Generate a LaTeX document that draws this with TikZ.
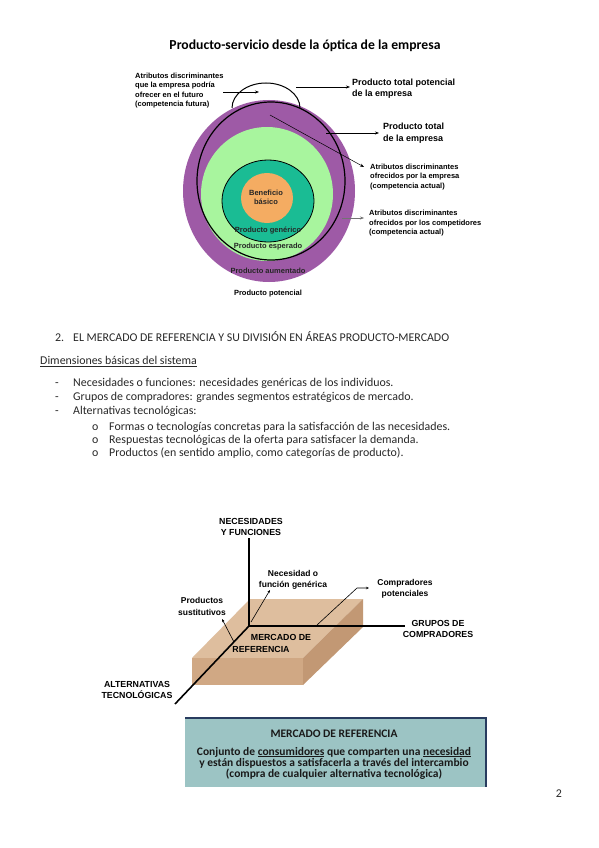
\documentclass[tikz,border=0pt]{standalone}
\usepackage{fontspec}
\setmainfont{Carlito}
\newfontfamily\arialf{Liberation Sans}
\usetikzlibrary{arrows.meta}
\definecolor{purp}{RGB}{158,90,166}
\definecolor{lgreen}{RGB}{168,245,158}
\definecolor{tealc}{RGB}{26,188,148}
\definecolor{orangec}{RGB}{244,172,98}
\definecolor{tantop}{RGB}{222,190,158}
\definecolor{tanfront}{RGB}{208,168,132}
\definecolor{tanside}{RGB}{194,152,116}
\definecolor{boxfill}{RGB}{156,196,196}
\definecolor{boxline}{RGB}{40,60,95}
\definecolor{bodytext}{RGB}{40,40,40}
\tikzset{
  sm/.style={font=\arialf\bfseries\fontsize{7.5}{9.3}\selectfont, inner sep=0pt, align=left, anchor=base west},
  md/.style={font=\arialf\bfseries\fontsize{9}{11}\selectfont, inner sep=0pt, align=left, anchor=base west},
  ax/.style={font=\arialf\bfseries\fontsize{8.8}{11}\selectfont, inner sep=0pt, align=center, anchor=base},
  inl/.style={font=\arialf\bfseries\fontsize{7.5}{9}\selectfont, inner sep=0pt, align=center, anchor=base},
  body/.style={font=\fontsize{11.9}{14}\selectfont, text=bodytext, inner sep=0pt, anchor=base west},
  arr/.style={line width=0.6pt, -{Stealth[length=4pt,width=3pt]}},
  axis/.style={line width=1.6pt},
  lead/.style={line width=0.6pt, -{Stealth[length=3pt,width=2.5pt]}},
}
\begin{document}
\begin{tikzpicture}[x=1pt,y=-1pt]
\useasboundingbox (0,0) rectangle (599,848);
\fill[white] (0,0) rectangle (599,848);

\node[font=\fontsize{13.7}{15}\selectfont\bfseries, anchor=base, inner sep=0pt] (title) at (305,49.5) {Producto-servicio desde la óptica de la empresa};

% circles
\fill[purp] (269,191) ellipse [x radius=86pt, y radius=91pt];
\fill[lgreen] (267,194) ellipse [x radius=66pt, y radius=67pt];
\filldraw[fill=tealc, draw=black, line width=0.8pt] (268,201) ellipse [x radius=46pt, y radius=41pt];
\fill[orangec] (267,198) ellipse [x radius=26pt, y radius=25pt];
\draw[line width=1.2pt] (271,181) ellipse [x radius=74pt, y radius=79pt];
\draw[line width=1pt] (232,108) arc[start angle=180, end angle=0, x radius=34pt, y radius=25pt];

\coordinate (futA) at (223,92);
\coordinate (futB) at (259,92);
\coordinate (potA) at (296,87);
\coordinate (potB) at (350,87);
\coordinate (totA) at (326,133);
\coordinate (totB) at (379,133);
\coordinate (actA) at (270,115);
\coordinate (actB) at (364,167);
\coordinate (compA) at (342,218);
\coordinate (compB) at (364,218);
\draw[arr] (futA) -- (futB);
\draw[arr] (potA) -- (potB);
\draw[arr] (totA) -- (totB);
\draw[arr, line width=0.5pt] (actA) -- (actB);
\draw[arr, draw=black!55, line width=0.5pt] (compA) -- (compB);

% multi-line nodes: base anchor = baseline of last line
\node[sm] (lfut) at (135,106.4) {Atributos discriminantes\\que la empresa podría\\ofrecer en el futuro\\(competencia futura)};
\node[md] (lpot) at (352,97) {Producto total potencial\\de la empresa};
\node[md] (ltot) at (383,141) {Producto total\\de la empresa};
\node[sm] (lact) at (370,188) {Atributos discriminantes\\ofrecidos por la empresa\\(competencia actual)};
\node[sm] (lcom) at (369,234.5) {Atributos discriminantes\\ofrecidos por los competidores\\(competencia actual)};

\node[inl, text=black!85] (lben) at (266,204.5) {Beneficio\\básico};
\node[inl, text=black!85] (lgen) at (268,232.5) {Producto genérico};
\node[inl, text=black!85] (lesp) at (268,248.5) {Producto esperado};
\node[inl, text=black!85] (laum) at (268,273.5) {Producto aumentado};
\node[inl] (lpotc) at (268,295.5) {Producto potencial};

% body text
\node[body] (n2) at (55,341) {2.};
\node[body] (head) at (73,341) {EL MERCADO DE REFERENCIA Y SU DIVISIÓN EN ÁREAS PRODUCTO-MERCADO};
\node[body] (dim) at (40,364.5) {\underline{Dimensiones básicas del sistema}};
\node[body] (d1) at (55,386.5) {-};
\node[body] (b1) at (73,386.5) {Necesidades o funciones: necesidades genéricas de los individuos.};
\node[body] (d2) at (55,400.5) {-};
\node[body] (b2) at (73,400.5) {Grupos de compradores: grandes segmentos estratégicos de mercado.};
\node[body] (d3) at (55,414.5) {-};
\node[body] (b3) at (73,414.5) {Alternativas tecnológicas:};
\node[body] (o1) at (92,430.5) {o};
\node[body] (s1) at (109,430.5) {Formas o tecnologías concretas para la satisfacción de las necesidades.};
\node[body] (o2) at (92,443.5) {o};
\node[body] (s2) at (109,443.5) {Respuestas tecnológicas de la oferta para satisfacer la demanda.};
\node[body] (o3) at (92,456.5) {o};
\node[body] (s3) at (109,456.5) {Productos (en sentido amplio, como categorías de producto).};

% slab
\fill[tantop] (250,599) -- (363,599) -- (303,658) -- (192,658) -- cycle;
\fill[tanfront] (192,658) -- (303,658) -- (303,685) -- (192,685) -- cycle;
\fill[tanside] (303,658) -- (363,599) -- (363,627) -- (303,685) -- cycle;

\coordinate (O) at (249,626);
\coordinate (vtop) at (249,538);
\coordinate (hend) at (405,626);
\coordinate (dend) at (175,704);
\draw[axis] (vtop) -- (O) -- (hend);
\draw[axis] (O) -- (dend);

\coordinate (necA) at (251,622);
\coordinate (necB) at (270,590);
\coordinate (cpA) at (317,625);
\coordinate (cpM) at (357,588);
\coordinate (cpB) at (369,588);
\coordinate (psA) at (234,642);
\coordinate (psB) at (222,619);
\draw[lead] (necA) -- (necB);
\draw[lead] (cpA) -- (cpM) -- (cpB);
\draw[lead] (psA) -- (psB);

\node[ax] (lnec) at (251,535) {NECESIDADES\\Y FUNCIONES};
\node[ax, font=\arialf\bfseries\fontsize{8.5}{11}\selectfont] (lnf) at (293,587) {Necesidad o\\función genérica};
\node[ax, font=\arialf\bfseries\fontsize{8.5}{11}\selectfont] (lcp) at (405,596) {Compradores\\potenciales};
\node[ax, font=\arialf\bfseries\fontsize{8.5}{12}\selectfont] (lps) at (202,615) {Productos\\sustitutivos};
\node[ax] (lmer) at (281,640.5) {MERCADO DE};
\node[ax] (lref) at (261,652.5) {REFERENCIA};
\node[ax] (lgru) at (438,637.5) {GRUPOS DE\\COMPRADORES};
\node[ax] (lalt) at (137,698.5) {ALTERNATIVAS\\TECNOLÓGICAS};

% definition box
\fill[boxfill] (185,718) rectangle (486,787);
\draw[boxline, line width=1.3pt] (185,718) -- (486,718) -- (486,787);
\node[font=\fontsize{11.5}{12}\selectfont\bfseries, text=black!90, anchor=base, inner sep=0pt] (bt) at (334,737) {MERCADO DE REFERENCIA};
\node[font=\fontsize{11.5}{11.2}\selectfont\bfseries, text=black!90, anchor=base, align=center, inner sep=0pt] (bd) at (334,777.5) {Conjunto de \underline{consumidores} que comparten una \underline{necesidad}\\y están dispuestos a satisfacerla a través del intercambio\\(compra de cualquier alternativa tecnológica)};

\node[font=\fontsize{11.9}{14}\selectfont, text=bodytext, anchor=base, inner sep=0pt] (pg) at (559,797) {2};
\end{tikzpicture}
\end{document}
